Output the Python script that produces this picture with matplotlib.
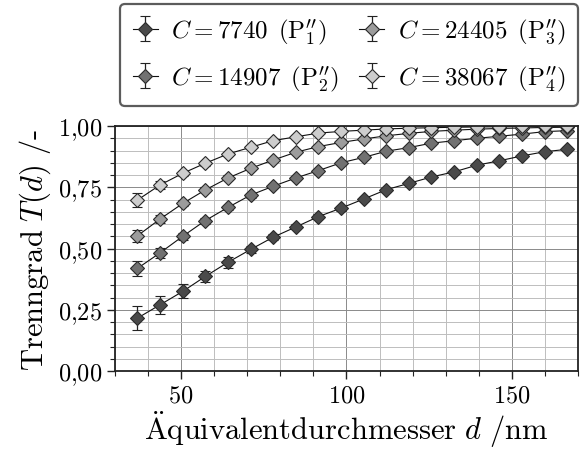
import matplotlib
matplotlib.use("Agg")
import matplotlib.pyplot as plt
from matplotlib.ticker import MultipleLocator, FuncFormatter

plt.rcParams['mathtext.fontset'] = 'cm'
plt.rcParams['font.family'] = 'serif'
plt.rcParams['font.serif'] = ['cmr10', 'DejaVu Serif']
plt.rcParams['axes.unicode_minus'] = False

d = [36.8, 43.6, 50.5, 57.3, 64.2, 71.0, 77.8, 84.7, 91.5, 98.4,
     105.2, 112.0, 118.9, 125.7, 132.6, 139.4, 146.2, 153.1, 159.9, 166.8]

t1 = [0.216, 0.270, 0.325, 0.386, 0.444, 0.496, 0.546, 0.588, 0.630, 0.665,
      0.702, 0.740, 0.766, 0.792, 0.813, 0.840, 0.858, 0.878, 0.895, 0.905]
t2 = [0.419, 0.482, 0.550, 0.614, 0.668, 0.718, 0.754, 0.788, 0.818, 0.850,
      0.872, 0.897, 0.912, 0.930, 0.940, 0.950, 0.958, 0.967, 0.977, 0.981]
t3 = [0.552, 0.620, 0.684, 0.739, 0.788, 0.827, 0.861, 0.893, 0.916, 0.933,
      0.947, 0.960, 0.970, 0.978, 0.983, 0.987, 0.990, 0.992, 0.994, 0.995]
t4 = [0.698, 0.759, 0.807, 0.848, 0.886, 0.913, 0.940, 0.956, 0.971, 0.978,
      0.983, 0.988, 0.991, 0.993, 0.995, 0.996, 0.997, 0.998, 0.998, 0.999]

e1 = [0.048, 0.037, 0.029, 0.022, 0.022, 0.015, 0.012, 0.010, 0.010, 0.010,
      0.008, 0.008, 0.008, 0.008, 0.008, 0.008, 0.008, 0.008, 0.008, 0.008]
e2 = [0.032, 0.020, 0.015, 0.012, 0.010, 0.010, 0.008, 0.008, 0.008, 0.008,
      0.008, 0.008, 0.008, 0.008, 0.008, 0.008, 0.008, 0.008, 0.008, 0.008]
e3 = [0.025, 0.015, 0.012, 0.010, 0.010, 0.008, 0.008, 0.008, 0.008, 0.008,
      0.008, 0.008, 0.008, 0.008, 0.008, 0.008, 0.008, 0.008, 0.008, 0.008]
e4 = [0.029, 0.015, 0.010, 0.010, 0.008, 0.008, 0.008, 0.008, 0.008, 0.008,
      0.008, 0.008, 0.008, 0.008, 0.008, 0.008, 0.008, 0.008, 0.008, 0.008]

labels = [r'$C = 7740\ \,(\mathrm{P}^{\prime\prime}_{1})$',
          r'$C = 14907\ \,(\mathrm{P}^{\prime\prime}_{2})$',
          r'$C = 24405\ \,(\mathrm{P}^{\prime\prime}_{3})$',
          r'$C = 38067\ \,(\mathrm{P}^{\prime\prime}_{4})$']
colors = ['#4a4a4a', '#717171', '#9c9c9c', '#cdcdcd']
series = [t1, t2, t3, t4]
errors = [e1, e2, e3, e4]

fig = plt.figure(figsize=(5.83, 4.52), dpi=100)
ax = fig.add_axes([115/583, 80/452, 463/583, 245/452])

for y, e, c, lab in zip(series, errors, colors, labels):
    ax.errorbar(d, y, yerr=e, fmt='-', marker='D', ms=7.5, mfc=c, mec='#2a2a2a',
                mew=0.8, color='#111111', lw=0.8, ecolor='#222222',
                elinewidth=0.9, capsize=3.5, capthick=0.9, label=lab)

ax.set_xlim(30, 170)
ax.set_ylim(0, 1)
ax.xaxis.set_major_locator(MultipleLocator(50))
ax.xaxis.set_minor_locator(MultipleLocator(10))
ax.yaxis.set_major_locator(MultipleLocator(0.25))
ax.yaxis.set_minor_locator(MultipleLocator(0.05))
ax.xaxis.set_major_formatter(FuncFormatter(lambda v, p: r'$%d$' % v))
ax.yaxis.set_major_formatter(FuncFormatter(lambda v, p: (r'$%.2f$' % v).replace('.', '{,}')))
ax.tick_params(axis='both', which='major', direction='out', length=6, width=1, labelsize=17.5, color='#222222')
ax.tick_params(axis='both', which='minor', direction='out', length=3.5, width=0.8, color='#222222')
ax.grid(True, which='major', color='#8a8a8a', lw=0.7)
ax.grid(True, which='minor', color='#bdbdbd', lw=0.7)
ax.set_axisbelow(True)
for s in ax.spines.values():
    s.set_linewidth(1.3)
    s.set_color('#222222')

ax.set_xlabel(r'$\ddot{\mathrm{A}}\mathrm{quivalentdurchmesser}\ d\ /\mathrm{nm}$', fontsize=22, labelpad=1)
ax.set_ylabel(r'$\mathrm{Trenngrad}\ T(d)\ /\text{-}$', fontsize=22, labelpad=3)

h, l = ax.get_legend_handles_labels()
leg = fig.legend(h, l, ncol=2,
                 loc='upper right', bbox_to_anchor=(582/583, 1 - 1/452),
                 fontsize=18, frameon=True, fancybox=True, edgecolor='#333333',
                 handlelength=1.0, handletextpad=0.55, columnspacing=0.8,
                 borderpad=0.5, labelspacing=0.7, borderaxespad=0.15)
leg.get_frame().set_linewidth(1.6)

fig.savefig('out.png', dpi=100)
